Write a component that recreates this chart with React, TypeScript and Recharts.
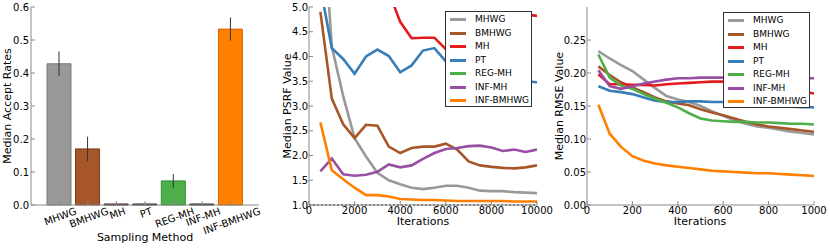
import React from 'react';
import {
  BarChart, Bar, Cell, ErrorBar, LineChart, Line, XAxis, YAxis, Label,
  Legend, ReferenceLine,
} from 'recharts';

const FONT = '"DejaVu Sans", sans-serif';

// ---- accept-rate bars ----
const methods = ['MHWG', 'BMHWG', 'MH', 'PT', 'REG-MH', 'INF-MH', 'INF-BMHWG'];
const acceptRates = [0.428, 0.17, 0, 0, 0.073, 0, 0.533];
const acceptErr = [0.037, 0.037, 0, 0, 0.021, 0, 0.035];
const colors = ['#999999', '#a65628', '#e41a1c', '#377eb8', '#4daf4a', '#984ea3', '#ff7f00'];
const edgeColors = ['#7d7d7d', '#7a3c19', '#222222', '#222222', '#3a8a37', '#222222', '#d26800'];
const acceptTicks = [0, 0.1, 0.2, 0.3, 0.4, 0.5, 0.6];

// ---- PSRF lines ----
const psrfIters = [500, 1000, 1500, 2000, 2500, 3000, 3500, 4000, 4500, 5000, 5500, 6000, 6500, 7000, 7500, 8000, 8500, 9000, 9500, 10000];
const psrfMhwg = [7.6, 4.2, 3.2, 2.35, 1.98, 1.65, 1.5, 1.42, 1.35, 1.32, 1.35, 1.39, 1.39, 1.35, 1.29, 1.28, 1.28, 1.26, 1.25, 1.24];
const psrfBmhwg = [4.9, 3.15, 2.63, 2.35, 2.62, 2.6, 2.18, 2.05, 2.15, 2.18, 2.18, 2.24, 2.12, 1.88, 1.8, 1.77, 1.75, 1.74, 1.76, 1.8];
const psrfMh = [null, null, null, null, null, null, 5.3, 4.7, 4.37, 4.38, 4.38, 4.15, 4.3, 4.5, 4.6, 4.7, 4.75, 4.8, 4.85, 4.82];
const psrfPt = [5.4, 4.17, 3.95, 3.65, 4.0, 4.14, 4.01, 3.68, 3.82, 4.12, 4.17, 3.9, 3.8, 3.7, 3.65, 3.6, 3.55, 3.5, 3.5, 3.48];
const psrfInfMh = [1.68, 1.94, 1.62, 1.59, 1.61, 1.67, 1.82, 1.76, 1.8, 1.93, 2.05, 2.13, 2.15, 2.19, 2.2, 2.16, 2.09, 2.12, 2.07, 2.12];
const psrfInfBmhwg = [2.67, 1.7, 1.52, 1.35, 1.2, 1.2, 1.17, 1.12, 1.11, 1.1, 1.1, 1.09, 1.08, 1.08, 1.08, 1.08, 1.08, 1.07, 1.07, 1.07];
const psrfXTicks = [0, 2000, 4000, 6000, 8000, 10000];
const psrfYTicks = [1.0, 1.5, 2.0, 2.5, 3.0, 3.5, 4.0, 4.5, 5.0];

// ---- RMSE lines ----
const rmseIters = [50, 100, 150, 200, 250, 300, 350, 400, 450, 500, 550, 600, 650, 700, 750, 800, 850, 900, 950, 1000];
const rmseMhwg = [0.233, 0.222, 0.212, 0.203, 0.19, 0.177, 0.165, 0.16, 0.156, 0.15, 0.142, 0.135, 0.128, 0.123, 0.119, 0.117, 0.114, 0.111, 0.109, 0.107];
const rmseBmhwg = [0.21, 0.197, 0.186, 0.178, 0.171, 0.163, 0.157, 0.154, 0.151, 0.145, 0.14, 0.136, 0.131, 0.126, 0.122, 0.119, 0.117, 0.115, 0.113, 0.111];
const rmseMh = [0.198, 0.183, 0.183, 0.182, 0.182, 0.181, 0.183, 0.184, 0.185, 0.186, 0.187, 0.187, 0.187, 0.186, 0.184, 0.181, 0.178, 0.175, 0.172, 0.169];
const rmsePt = [0.18, 0.173, 0.171, 0.168, 0.163, 0.158, 0.156, 0.156, 0.157, 0.157, 0.156, 0.156, 0.156, 0.155, 0.154, 0.152, 0.15, 0.149, 0.148, 0.148];
const rmseRegMh = [0.228, 0.193, 0.181, 0.176, 0.168, 0.161, 0.155, 0.148, 0.139, 0.131, 0.128, 0.127, 0.126, 0.126, 0.125, 0.125, 0.124, 0.123, 0.123, 0.122];
const rmseInfMh = [0.204, 0.18, 0.176, 0.18, 0.184, 0.187, 0.19, 0.192, 0.192, 0.193, 0.193, 0.193, 0.193, 0.193, 0.193, 0.193, 0.192, 0.192, 0.192, 0.192];
const rmseInfBmhwg = [0.152, 0.108, 0.088, 0.074, 0.067, 0.063, 0.06, 0.058, 0.056, 0.054, 0.052, 0.051, 0.05, 0.049, 0.048, 0.048, 0.047, 0.046, 0.045, 0.044];
const rmseXTicks = [0, 200, 400, 600, 800, 1000];
const rmseYTicks = [0, 0.05, 0.1, 0.15, 0.2, 0.25];

const acceptData = methods.map((m, i) => ({ method: m, rate: acceptRates[i], err: acceptErr[i] }));

const psrfSeries = [psrfMhwg, psrfBmhwg, psrfMh, psrfPt, null, psrfInfMh, psrfInfBmhwg];
const rmseSeries = [rmseMhwg, rmseBmhwg, rmseMh, rmsePt, rmseRegMh, rmseInfMh, rmseInfBmhwg];

const toRows = (iters: number[], series: (any[] | null)[]) =>
  iters.map((it, i) => {
    const row: any = { it };
    series.forEach((s, k) => { if (s) row[methods[k]] = s[i]; });
    return row;
  });

const psrfData = toRows(psrfIters, psrfSeries);
const rmseData = toRows(rmseIters, rmseSeries);

const FRAME = '#8a8a8a';
const tickStyle = { fill: '#000', fontSize: 10, fontFamily: FONT };

let canvas: HTMLCanvasElement | null = null;
const textWidth = (s: string) => {
  try {
    if (!canvas) canvas = document.createElement('canvas');
    const ctx = canvas.getContext('2d');
    if (ctx) {
      ctx.font = `10px ${FONT}`;
      return ctx.measureText(s).width;
    }
  } catch (e) { /* ignore */ }
  return s.length * 6.3;
};

// rotated category labels, top of the rotated text sits just under the axis
const MethodTick = (props: any) => {
  const { x, y, payload } = props;
  const w = textWidth(payload.value);
  const th = (20 * Math.PI) / 180;
  const cap = 7.3;
  const cy = y + (w * Math.sin(th) + cap * Math.cos(th)) / 2;
  return (
    <text x={x + 1} y={cy} dy={cap / 2} textAnchor="middle" transform={`rotate(-20 ${x + 1} ${cy})`}
      fontSize={10} fontFamily={FONT} fill="#000">
      {payload.value}
    </text>
  );
};

const yTitle = (text: string, x: number) => () => (
  <text x={x} y={106} transform={`rotate(-90 ${x} 106)`} textAnchor="middle"
    fontSize={11} fontFamily={FONT} fill="#000">{text}</text>
);

const xTitle = (text: string, x: number, y: number) => () => (
  <text x={x} y={y} textAnchor="middle" fontSize={11} fontFamily={FONT} fill="#000">{text}</text>
);

const LegendBox = () => (
  <div style={{
    position: 'relative', width: 87, height: 96, border: '1px solid #333', background: '#fff',
    boxSizing: 'border-box', fontFamily: FONT, fontSize: 9, color: '#000',
  }}>
    {methods.map((m, i) => (
      <div key={m} style={{ position: 'absolute', left: 0, top: 1 + i * 13.5, height: 13, display: 'flex', alignItems: 'center' }}>
        <span style={{ display: 'inline-block', marginLeft: 4, width: 16, height: 3, background: colors[i] }} />
        <span style={{ marginLeft: 9, lineHeight: '13px', whiteSpace: 'nowrap' }}>{m}</span>
      </div>
    ))}
  </div>
);

const fmt1 = (v: number) => v.toFixed(1);
const fmt2 = (v: number) => v.toFixed(2);

export default function App() {
  return (
    <div style={{ position: 'absolute', left: 0, top: 0, width: 830, height: 249, background: '#fff' }}>
      <div style={{ position: 'absolute', left: 0, top: 0 }}>
        <BarChart width={270} height={249} data={acceptData} margin={{ top: 7, right: 11, left: 0, bottom: 0 }}>
          <XAxis dataKey="method" height={44} padding={{ left: 14, right: 14 }} interval={0}
            tickSize={-4} tickMargin={6} stroke={FRAME} tick={<MethodTick />}>
            <Label content={xTitle('Sampling Method', 145, 241)} />
          </XAxis>
          <XAxis xAxisId="top" orientation="top" type="number" domain={[0, 8]} allowDataOverflow
            ticks={[1, 2, 3, 4, 5, 6, 7]} height={0} tick={false} tickSize={-4} stroke={FRAME} />
          <YAxis width={31} domain={[0, 0.6]} ticks={acceptTicks} tickFormatter={fmt1}
            tickSize={-4} tickMargin={6} stroke={FRAME} tick={tickStyle}>
            <Label content={yTitle('Median Accept Rates', 11)} />
          </YAxis>
          <YAxis yAxisId="right" orientation="right" width={0} domain={[0, 0.6]} allowDataOverflow
            ticks={acceptTicks} tick={false} tickSize={-4} stroke={FRAME} />
          <Bar dataKey="rate" barSize={24} minPointSize={1} isAnimationActive={false}>
            {acceptData.map((d, i) => (
              <Cell key={d.method} fill={colors[i]} stroke={edgeColors[i]} strokeWidth={1} />
            ))}
            <ErrorBar dataKey="err" width={0} stroke="#333" strokeWidth={1} direction="y" />
          </Bar>
        </BarChart>
      </div>

      <div style={{ position: 'absolute', left: 270, top: 0 }}>
        <LineChart width={296} height={249} data={psrfData} margin={{ top: 7, right: 29, left: 0, bottom: 0 }}>
          <XAxis dataKey="it" type="number" domain={[0, 10000]} allowDataOverflow ticks={psrfXTicks}
            height={44} tickSize={-4} tickMargin={6} stroke={FRAME} tick={tickStyle}>
            <Label content={xTitle('Iterations', 153, 225)} />
          </XAxis>
          <XAxis xAxisId="top" orientation="top" type="number" domain={[0, 10000]} allowDataOverflow
            ticks={psrfXTicks} height={0} tick={false} tickSize={-4} stroke={FRAME} />
          <YAxis width={39} domain={[1, 5]} allowDataOverflow ticks={psrfYTicks} tickFormatter={fmt1}
            tickSize={-4} tickMargin={5} stroke={FRAME} tick={tickStyle}>
            <Label content={yTitle('Median PSRF Value', 21)} />
          </YAxis>
          <YAxis yAxisId="right" orientation="right" width={0} domain={[1, 5]} allowDataOverflow
            ticks={psrfYTicks} tick={false} tickSize={-4} stroke={FRAME} />
          <ReferenceLine y={1} stroke="#000" strokeDasharray="2 2" strokeWidth={1.2} />
          {methods.map((m, i) => psrfSeries[i] ? (
            <Line key={m} dataKey={m} type="linear" stroke={colors[i]} strokeWidth={2.6} dot={false}
              isAnimationActive={false} />
          ) : null)}
          <Legend layout="horizontal" verticalAlign="middle" align="center" content={() => <LegendBox />}
            wrapperStyle={{ left: 175, top: 11, width: 87, height: 96 }} />
        </LineChart>
      </div>

      <div style={{ position: 'absolute', left: 550, top: 0 }}>
        <LineChart width={280} height={249} data={rmseData} margin={{ top: 7, right: 16, left: 0, bottom: 0 }}>
          <XAxis dataKey="it" type="number" domain={[0, 1000]} allowDataOverflow ticks={rmseXTicks}
            height={44} tickSize={-4} tickMargin={6} stroke={FRAME} tick={tickStyle}>
            <Label content={xTitle('Iterations', 150, 225)} />
          </XAxis>
          <XAxis xAxisId="top" orientation="top" type="number" domain={[0, 1000]} allowDataOverflow
            ticks={rmseXTicks} height={0} tick={false} tickSize={-4} stroke={FRAME} />
          <YAxis width={37} domain={[0, 0.3]} allowDataOverflow ticks={rmseYTicks} tickFormatter={fmt2}
            tickSize={-4} tickMargin={5} stroke={FRAME} tick={tickStyle}>
            <Label content={yTitle('Median RMSE Value', 13)} />
          </YAxis>
          <YAxis yAxisId="right" orientation="right" width={0} domain={[0, 0.3]} allowDataOverflow
            ticks={rmseYTicks} tick={false} tickSize={-4} stroke={FRAME} />
          {methods.map((m, i) => (
            <Line key={m} dataKey={m} type="linear" stroke={colors[i]} strokeWidth={2.6} dot={false}
              isAnimationActive={false} />
          ))}
          <Legend layout="horizontal" verticalAlign="middle" align="center" content={() => <LegendBox />}
            wrapperStyle={{ left: 173, top: 12, width: 87, height: 96 }} />
        </LineChart>
      </div>
    </div>
  );
}
